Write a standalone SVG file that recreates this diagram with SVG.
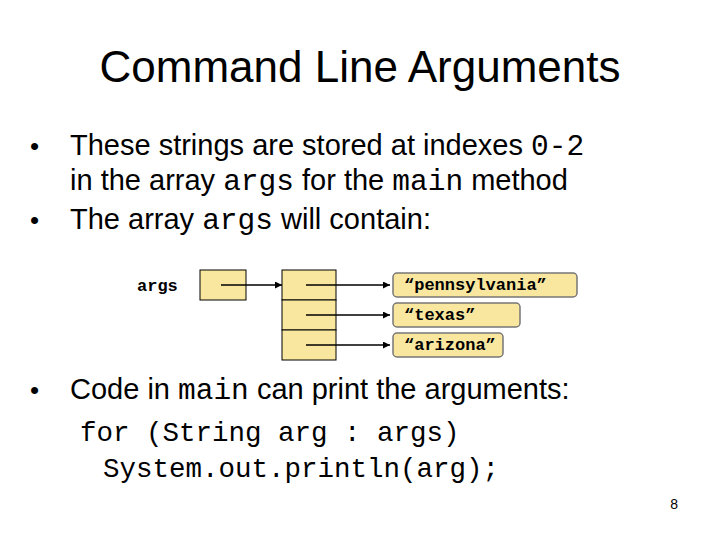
<svg xmlns="http://www.w3.org/2000/svg" width="720" height="540" viewBox="0 0 720 540">
<defs>
<style>
.s{font-family:"Liberation Sans",Arial,sans-serif;fill:#000}
.m{font-family:"Liberation Mono","Courier New",monospace;fill:#000}
.b{fill:#f9e79f;stroke:#000;stroke-width:1}
.r{fill:#f9e79f;stroke:#777;stroke-width:1.5}
.c{stroke:#000;stroke-width:1.5;fill:none;marker-end:url(#a)}
</style>
<marker id="a" viewBox="0 0 10 10" refX="10" refY="5" markerWidth="7" markerHeight="7" orient="auto" markerUnits="userSpaceOnUse"><path d="M0,0L10,5L0,10z" fill="#000"/></marker>
</defs>
<rect width="720" height="540" fill="#fff"/>
<text class="s" x="360" y="82" font-size="44" text-anchor="middle">Command Line Arguments</text>
<g font-size="29">
<text class="s" x="30" y="155" font-size="26">•</text>
<text class="s" x="70" y="155">These strings are stored at indexes <tspan class="m" fill="#555" font-size="29.5">0-2</tspan></text>
<text class="s" x="70" y="190">in the array <tspan class="m" fill="#555" font-size="29.5">args</tspan> for the <tspan class="m" fill="#555" font-size="29.5">main</tspan> method</text>
<text class="s" x="30" y="229" font-size="26">•</text>
<text class="s" x="70" y="229">The array <tspan class="m" fill="#555" font-size="29.5">args</tspan> will contain:</text>
<text class="s" x="30" y="399" font-size="26">•</text>
<text class="s" x="70" y="399">Code in <tspan class="m" fill="#555" font-size="29.5">main</tspan> can print the arguments:</text>
<text class="m" x="80" y="441" fill="#555" font-size="27.5">for (String arg : args)</text>
<text class="m" x="103" y="477" fill="#000" font-size="27.5">System.out.println(arg);</text>
</g>
<text class="s" x="678" y="509" font-size="14" text-anchor="end">8</text>
<g id="argsVar">
<text class="m" x="137" y="291" font-size="17" font-weight="bold">args</text>
<rect class="b" x="200" y="270" width="46" height="30"/>
</g>
<g id="array">
<rect class="b" x="282" y="270" width="54" height="30"/>
<rect class="b" x="282" y="300" width="54" height="30"/>
<rect class="b" x="282" y="330" width="54" height="30"/>
</g>
<g id="s0"><rect class="r" x="393" y="273" width="184" height="24" rx="4"/><text class="m" x="404" y="290" font-size="17" font-weight="bold">“pennsylvania”</text></g>
<g id="s1"><rect class="r" x="393" y="303" width="127" height="24" rx="4"/><text class="m" x="404" y="320" font-size="17" font-weight="bold">“texas”</text></g>
<g id="s2"><rect class="r" x="393" y="333" width="110" height="24" rx="4"/><text class="m" x="404" y="350" font-size="17" font-weight="bold">“arizona”</text></g>
<g id="connectors">
<path class="c" d="M221,285H282"/>
<path class="c" d="M306,285H390"/>
<path class="c" d="M306,315H390"/>
<path class="c" d="M306,345H390"/>
</g>
</svg>
